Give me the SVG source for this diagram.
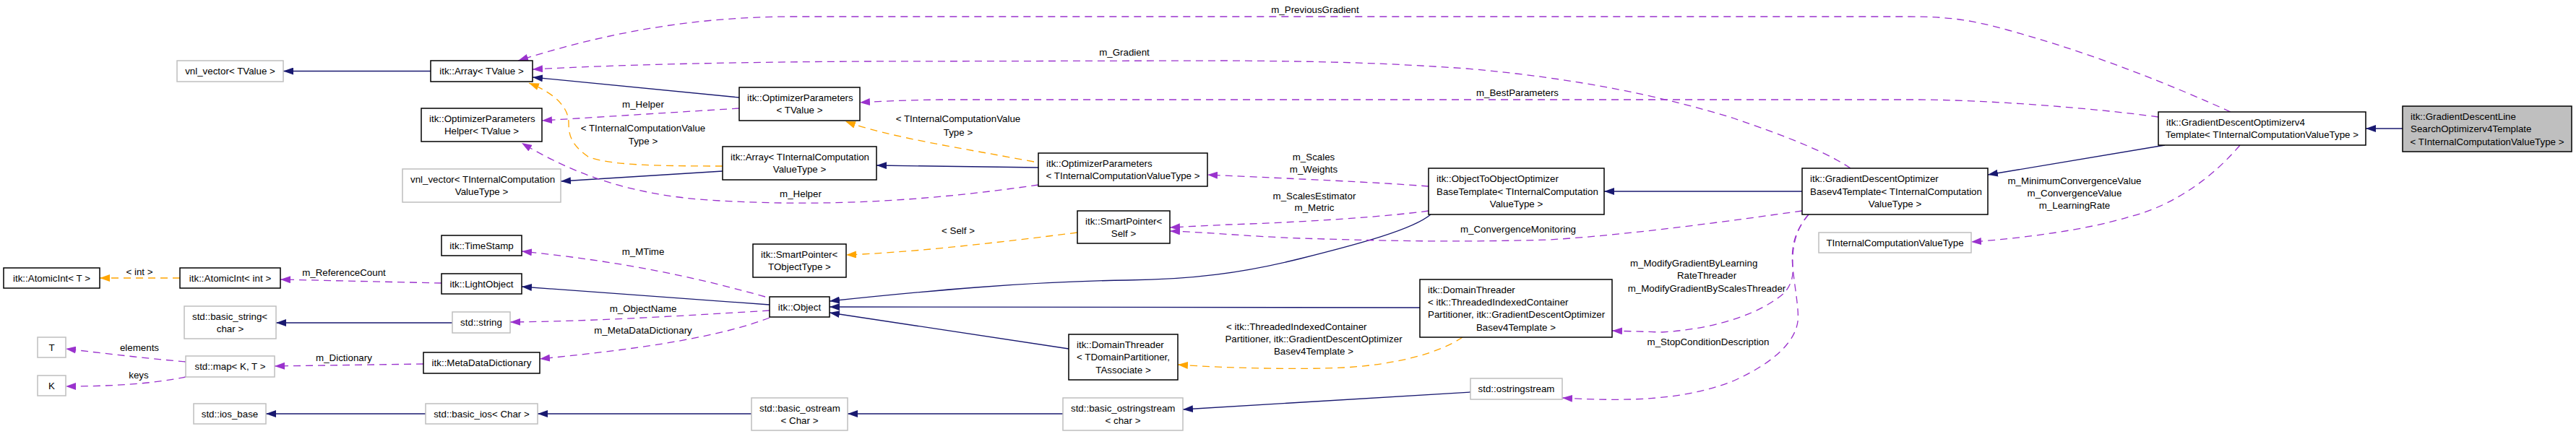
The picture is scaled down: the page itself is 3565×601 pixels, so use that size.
<svg xmlns="http://www.w3.org/2000/svg" width="3565" height="601" viewBox="0 0 3565 601">
<style>
text{font-family:"Liberation Sans",Arial,Helvetica,sans-serif;font-size:13.33px;fill:#000}
.c{text-anchor:middle}
.n rect{fill:#fff;stroke:#000;stroke-width:1.5}
.g rect{fill:#fff;stroke:#bfbfbf;stroke-width:1.5}
.m rect{fill:#bfbfbf;stroke:#000;stroke-width:1.5}
.e path{fill:none;stroke-width:1.3}
.inh{stroke:#191970;marker-end:url(#an)}
.use{stroke:#9a32cd;stroke-dasharray:10,7;marker-end:url(#ap)}
.tpl{stroke:#ffa500;stroke-dasharray:10,7;marker-end:url(#ao)}
</style>
<defs>
<marker id="an" viewBox="0 0 14 10" refX="14" refY="5" markerWidth="14" markerHeight="10" markerUnits="userSpaceOnUse" orient="auto"><path d="M0,0L14,5L0,10z" fill="#191970"/></marker>
<marker id="ap" viewBox="0 0 14 10" refX="14" refY="5" markerWidth="14" markerHeight="10" markerUnits="userSpaceOnUse" orient="auto"><path d="M0,0L14,5L0,10z" fill="#9a32cd"/></marker>
<marker id="ao" viewBox="0 0 14 10" refX="14" refY="5" markerWidth="14" markerHeight="10" markerUnits="userSpaceOnUse" orient="auto"><path d="M0,0L14,5L0,10z" fill="#ffa500"/></marker>
</defs>
<rect width="3565" height="601" fill="#fff"/>

<g id="edges" class="e">
<path class="inh" d="M596,98.5L392,98.5"/>
<path class="inh" d="M1023,135L737,107"/>
<path class="inh" d="M1000,237L776,251"/>
<path class="inh" d="M1437,232L1213,229"/>
<path class="inh" d="M1980,297C1955,318 1880,338 1800,358C1720,378 1650,387 1560,388C1420,390 1280,403 1148,417"/>
<path class="inh" d="M1965,426L1148,425"/>
<path class="inh" d="M1479,483L1148,433"/>
<path class="inh" d="M2494,265L2220,265"/>
<path class="inh" d="M2996,201L2751,242"/>
<path class="inh" d="M3325,178L3274,178"/>
<path class="inh" d="M1065,422L722,397"/>
<path class="inh" d="M626,447L382,447"/>
<path class="inh" d="M2035,543L1637,567"/>
<path class="inh" d="M1471,573L1173,573"/>
<path class="inh" d="M1040,573L744,573"/>
<path class="inh" d="M589,573L368,573"/>

<path class="use" d="M3087,155C3010,120 2900,75 2780,42C2730,28 2700,23 2640,23L1100,23C960,23 840,45 717,84"/>
<path class="use" d="M2561,233C2520,205 2440,178 2400,164C2300,133 2180,108 2030,95C1900,86 1820,85 1700,84L1200,85C1000,86 850,90 737,96"/>
<path class="use" d="M2987,162C2900,150 2750,138 2650,138L1300,138C1250,139 1220,140 1190,142"/>
<path class="use" d="M1023,150L750,167"/>
<path class="use" d="M1437,256C1300,276 1150,288 980,277C880,270 800,245 722,198"/>
<path class="use" d="M1977,258C1900,252 1800,248 1671,242"/>
<path class="use" d="M1977,292C1920,300 1800,308 1700,311L1619,315"/>
<path class="use" d="M2494,292C2400,305 2259,325 2144,332C2000,336 1900,333 1800,330C1720,327 1680,322 1619,320"/>
<path class="use" d="M3100,201C3050,260 2990,290 2947,300C2890,318 2800,330 2728,335"/>
<path class="use" d="M2503,297C2485,318 2480,340 2481,370C2482,385 2478,395 2470,405C2440,432 2380,455 2300,460L2231,458"/>
<path class="use" d="M2503,297C2485,318 2478,340 2481,370C2484,400 2490,430 2488,445C2485,470 2460,500 2400,527C2330,555 2250,556 2162,551"/>
<path class="use" d="M1059,411C960,383 860,362 722,348"/>
<path class="use" d="M1065,430C950,437 820,445 706,446"/>
<path class="use" d="M1065,440C1000,465 900,482 747,497"/>
<path class="use" d="M611,392L388,387"/>
<path class="use" d="M586,504L380,507"/>
<path class="use" d="M257,501C200,496 150,490 91,483"/>
<path class="use" d="M257,522C210,532 150,535 91,535"/>

<path class="tpl" d="M249,385L138,385"/>
<path class="tpl" d="M1000,230C900,230 840,228 814,217C790,200 787,187 787,170C787,150 770,130 732,115"/>
<path class="tpl" d="M1431,224C1330,205 1230,190 1170,168"/>
<path class="tpl" d="M1491,322C1350,340 1250,350 1171,353"/>
<path class="tpl" d="M2024,467C1990,490 1930,505 1860,509C1800,512 1700,510 1630,505"/>
</g>

<g id="edge-labels">
<text class="c" x="1820" y="17.7">m_PreviousGradient</text>
<text class="c" x="1556" y="76.7">m_Gradient</text>
<text class="c" x="2100" y="132.7">m_BestParameters</text>
<text class="c" x="890" y="148.7">m_Helper</text>
<text class="c" x="890" y="181.7">&lt; TInternalComputationValue</text>
<text class="c" x="890" y="199.7">Type &gt;</text>
<text class="c" x="1326" y="168.7">&lt; TInternalComputationValue</text>
<text class="c" x="1326" y="187.7">Type &gt;</text>
<text class="c" x="1108" y="272.7">m_Helper</text>
<text class="c" x="1818" y="222">m_Scales</text>
<text class="c" x="1818" y="239.3">m_Weights</text>
<text class="c" x="1819" y="275.7">m_ScalesEstimator</text>
<text class="c" x="1819" y="291.7">m_Metric</text>
<text class="c" x="1326" y="323.7">&lt; Self &gt;</text>
<text class="c" x="2101" y="321.7">m_ConvergenceMonitoring</text>
<text class="c" x="2871" y="254.7">m_MinimumConvergenceValue</text>
<text class="c" x="2871" y="272">m_ConvergenceValue</text>
<text class="c" x="2871" y="289.3">m_LearningRate</text>
<text x="2256" y="369">m_ModifyGradientByLearning</text>
<text class="c" x="2362" y="386.3">RateThreader</text>
<text class="c" x="2362" y="403.6">m_ModifyGradientByScalesThreader</text>
<text class="c" x="2364" y="477.7">m_StopConditionDescription</text>
<text x="1697" y="456.7">&lt; itk::ThreadedIndexedContainer</text>
<text class="c" x="1818" y="474">Partitioner, itk::GradientDescentOptimizer</text>
<text class="c" x="1818" y="491.3">Basev4Template &gt;</text>
<text class="c" x="890" y="352.7">m_MTime</text>
<text class="c" x="890" y="431.7">m_ObjectName</text>
<text class="c" x="890" y="461.7">m_MetaDataDictionary</text>
<text class="c" x="476" y="381.7">m_ReferenceCount</text>
<text class="c" x="476" y="499.7">m_Dictionary</text>
<text class="c" x="193" y="380.7">&lt; int &gt;</text>
<text class="c" x="193" y="485.7">elements</text>
<text class="c" x="192" y="523.7">keys</text>
</g>

<g id="n-main" class="m"><rect x="3325" y="147" width="234" height="63"/><text x="3336" y="166">itk::GradientDescentLine</text><text x="3336" y="183.2">SearchOptimizerv4Template</text><text class="c" x="3442" y="200.5">&lt; TInternalComputationValueType &gt;</text></g>
<g id="n-gdov4" class="n"><rect x="2987" y="155" width="287" height="46"/><text x="2998" y="174">itk::GradientDescentOptimizerv4</text><text class="c" x="3130.5" y="191.3">Template&lt; TInternalComputationValueType &gt;</text></g>
<g id="n-gdobase" class="n"><rect x="2494" y="233" width="257" height="64"/><text x="2505" y="252.4">itk::GradientDescentOptimizer</text><text x="2505" y="269.7">Basev4Template&lt; TInternalComputation</text><text class="c" x="2622.5" y="287">ValueType &gt;</text></g>
<g id="n-ticvt" class="g"><rect x="2517" y="322" width="211" height="28"/><text class="c" x="2622.5" y="340.7">TInternalComputationValueType</text></g>
<g id="n-o2o" class="n"><rect x="1977" y="233" width="243" height="64"/><text x="1988" y="252.4">itk::ObjectToObjectOptimizer</text><text x="1988" y="269.7">BaseTemplate&lt; TInternalComputation</text><text class="c" x="2098.5" y="287">ValueType &gt;</text></g>
<g id="n-dtgdo" class="n"><rect x="1965" y="387" width="266" height="80"/><text x="1976" y="405.8">itk::DomainThreader</text><text x="1976" y="423">&lt; itk::ThreadedIndexedContainer</text><text x="1976" y="440.4">Partitioner, itk::GradientDescentOptimizer</text><text class="c" x="2098" y="457.7">Basev4Template &gt;</text></g>
<g id="n-oss" class="g"><rect x="2035" y="524" width="127" height="29"/><text class="c" x="2098.5" y="543.2">std::ostringstream</text></g>
<g id="n-optpticvt" class="n"><rect x="1437" y="212" width="234" height="46"/><text x="1448" y="231">itk::OptimizerParameters</text><text class="c" x="1554" y="248.3">&lt; TInternalComputationValueType &gt;</text></g>
<g id="n-spself" class="n"><rect x="1491" y="292" width="128" height="45"/><text x="1502" y="310.5">itk::SmartPointer&lt;</text><text class="c" x="1555" y="327.8">Self &gt;</text></g>
<g id="n-dttdp" class="n"><rect x="1479" y="463" width="151" height="63"/><text x="1490" y="481.9">itk::DomainThreader</text><text x="1490" y="499.2">&lt; TDomainPartitioner,</text><text class="c" x="1554.5" y="516.5">TAssociate &gt;</text></g>
<g id="n-bostrs" class="g"><rect x="1471" y="551" width="166" height="45"/><text x="1482" y="569.5">std::basic_ostringstream</text><text class="c" x="1554" y="586.8">&lt; char &gt;</text></g>
<g id="n-optptv" class="n"><rect x="1023" y="121" width="167" height="46"/><text x="1034" y="140">itk::OptimizerParameters</text><text class="c" x="1106.5" y="157.3">&lt; TValue &gt;</text></g>
<g id="n-arrticvt" class="n"><rect x="1000" y="203" width="213" height="46"/><text x="1011" y="222">itk::Array&lt; TInternalComputation</text><text class="c" x="1106.5" y="239.3">ValueType &gt;</text></g>
<g id="n-sptot" class="n"><rect x="1042" y="338" width="129" height="46"/><text x="1053" y="357">itk::SmartPointer&lt;</text><text class="c" x="1106.5" y="374.3">TObjectType &gt;</text></g>
<g id="n-object" class="n"><rect x="1065" y="411" width="83" height="28"/><text class="c" x="1106.5" y="429.7">itk::Object</text></g>
<g id="n-bostream" class="g"><rect x="1040" y="551" width="133" height="45"/><text x="1051" y="569.5">std::basic_ostream</text><text class="c" x="1106.5" y="586.8">&lt; Char &gt;</text></g>
<g id="n-arrtv" class="n"><rect x="596" y="84" width="141" height="29"/><text class="c" x="666.5" y="103.2">itk::Array&lt; TValue &gt;</text></g>
<g id="n-helper" class="n"><rect x="583" y="150" width="167" height="46"/><text x="594" y="169">itk::OptimizerParameters</text><text class="c" x="666.5" y="186.3">Helper&lt; TValue &gt;</text></g>
<g id="n-vnlticvt" class="g"><rect x="557" y="234" width="219" height="46"/><text x="568" y="252.6">vnl_vector&lt; TInternalComputation</text><text class="c" x="666.5" y="269.9">ValueType &gt;</text></g>
<g id="n-timestamp" class="n"><rect x="611" y="326" width="111" height="28"/><text class="c" x="666.5" y="344.7">itk::TimeStamp</text></g>
<g id="n-lightobject" class="n"><rect x="611" y="379" width="111" height="28"/><text class="c" x="666.5" y="397.7">itk::LightObject</text></g>
<g id="n-string" class="g"><rect x="626" y="432" width="80" height="29"/><text class="c" x="666" y="451.2">std::string</text></g>
<g id="n-mdd" class="n"><rect x="586" y="488" width="161" height="29"/><text class="c" x="666.5" y="507.2">itk::MetaDataDictionary</text></g>
<g id="n-bios" class="g"><rect x="589" y="559" width="155" height="28"/><text class="c" x="666.5" y="577.7">std::basic_ios&lt; Char &gt;</text></g>
<g id="n-vnltv" class="g"><rect x="245" y="84" width="147" height="29"/><text class="c" x="318.5" y="103.2">vnl_vector&lt; TValue &gt;</text></g>
<g id="n-aiint" class="n"><rect x="249" y="371" width="139" height="28"/><text class="c" x="318.5" y="389.7">itk::AtomicInt&lt; int &gt;</text></g>
<g id="n-bstring" class="g"><rect x="255" y="424" width="127" height="45"/><text x="266" y="442.5">std::basic_string&lt;</text><text class="c" x="318.5" y="459.8">char &gt;</text></g>
<g id="n-map" class="g"><rect x="257" y="493" width="123" height="29"/><text class="c" x="318.5" y="512.2">std::map&lt; K, T &gt;</text></g>
<g id="n-iosbase" class="g"><rect x="268" y="559" width="100" height="28"/><text class="c" x="318" y="577.7">std::ios_base</text></g>
<g id="n-aiT" class="n"><rect x="5" y="371" width="133" height="28"/><text class="c" x="71.5" y="389.7">itk::AtomicInt&lt; T &gt;</text></g>
<g id="n-T" class="g"><rect x="52" y="467" width="39" height="28"/><text class="c" x="71.5" y="485.7">T</text></g>
<g id="n-K" class="g"><rect x="52" y="520" width="39" height="28"/><text class="c" x="71.5" y="538.7">K</text></g>
</svg>
